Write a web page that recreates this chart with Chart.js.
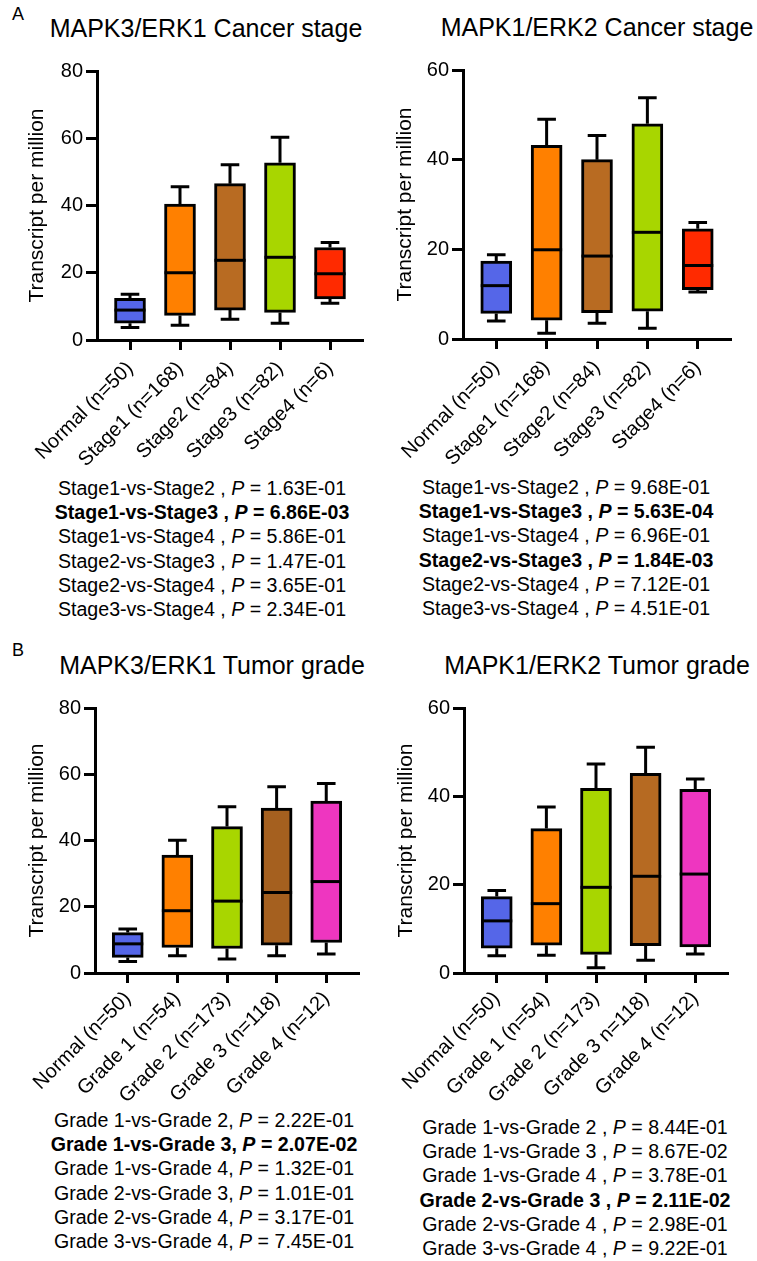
<!DOCTYPE html>
<html>
<head>
<meta charset="utf-8">
<script src="https://cdn.jsdelivr.net/npm/chart.js@4.4.1/dist/chart.umd.min.js"></script>
<style>
  body {
    margin: 0;
    background: #fff;
    width: 757px;
    height: 1261px;
    position: relative;
    overflow: hidden;
    font-family: 'Liberation Sans', Arial, Helvetica, sans-serif;
    color: #000;
  }
  .letter { position: absolute; font-size: 18px; line-height: 18px; }
  .title { position: absolute; width: 400px; text-align: center; font-size: 25px; line-height: 30px; white-space: nowrap; }
  .stats { position: absolute; width: 380px; text-align: center; font-size: 19.6px; line-height: 24.2px; white-space: nowrap; }
  canvas { position: absolute; }
</style>
</head>
<body>
<div class="letter" style="left:12px;top:5px">A</div>
<div class="letter" style="left:12px;top:641px">B</div>
<div class="title" style="left:6px;top:13px">MAPK3/ERK1 Cancer stage</div>
<div class="title" style="left:397px;top:12px">MAPK1/ERK2 Cancer stage</div>
<div class="title" style="left:12px;top:650px">MAPK3/ERK1 Tumor grade</div>
<div class="title" style="left:397px;top:650px">MAPK1/ERK2 Tumor grade</div>
<div class="stats" id="statsA" style="left:12px;top:476px"></div>
<div class="stats" id="statsB" style="left:376px;top:475px"></div>
<div class="stats" id="statsC" style="left:14px;top:1108px"></div>
<div class="stats" id="statsD" style="left:385px;top:1115px"></div>

<script>
const fontFamily = "'Liberation Sans', Arial, Helvetica, sans-serif";

// category labels
const stageLabels = ['Normal (n=50)', 'Stage1 (n=168)', 'Stage2 (n=84)', 'Stage3 (n=82)', 'Stage4 (n=6)'];
const gradeLabels = ['Normal (n=50)', 'Grade 1 (n=54)', 'Grade 2 (n=173)', 'Grade 3 (n=118)', 'Grade 4 (n=12)'];
const gradeLabelsErk2 = ['Normal (n=50)', 'Grade 1 (n=54)', 'Grade 2 (n=173)', 'Grade 3 n=118)', 'Grade 4 (n=12)'];

const stageColors = ['#5566e8', '#ff8000', '#b86b22', '#a8d600', '#ff2a00'];
const gradeColors = ['#5566e8', '#ff8000', '#a8d600', '#a5601f', '#ee36c0'];
const gradeColorsErk2 = ['#5566e8', '#ff8000', '#a8d600', '#b66a22', '#ee36c0'];

// MAPK3/ERK1 by cancer stage (min, Q1, median, Q3, max)
const erk1StageMin = [3.7, 4.4, 6.2, 5.0, 10.9];
const erk1StageQ1 = [5.0, 7.3, 8.9, 8.2, 12.2];
const erk1StageMed = [8.9, 20.0, 23.7, 24.6, 19.7];
const erk1StageQ3 = [12.4, 40.4, 46.5, 52.7, 27.5];
const erk1StageMax = [13.6, 45.6, 52.1, 60.3, 29.0];

// MAPK1/ERK2 by cancer stage
const erk2StageMin = [4.0, 1.3, 3.5, 2.4, 10.5];
const erk2StageQ1 = [5.7, 4.2, 5.9, 6.2, 11.0];
const erk2StageMed = [11.9, 19.9, 18.5, 23.8, 16.4];
const erk2StageQ3 = [17.4, 43.2, 40.0, 48.0, 24.6];
const erk2StageMax = [18.8, 49.0, 45.4, 53.8, 26.0];

// MAPK3/ERK1 by tumor grade
const erk1GradeMin = [3.5, 5.2, 4.2, 5.2, 5.7];
const erk1GradeQ1 = [4.7, 7.7, 7.4, 8.4, 9.2];
const erk1GradeMed = [8.8, 18.8, 21.7, 24.3, 27.6];
const erk1GradeQ3 = [12.2, 35.6, 44.2, 49.8, 51.9];
const erk1GradeMax = [13.3, 40.1, 50.2, 56.2, 57.2];

// MAPK1/ERK2 by tumor grade
const erk2GradeMin = [3.9, 4.0, 1.2, 2.9, 4.3];
const erk2GradeQ1 = [5.6, 6.3, 4.2, 6.2, 5.9];
const erk2GradeMed = [11.8, 15.7, 19.4, 21.9, 22.4];
const erk2GradeQ3 = [17.3, 32.7, 41.8, 45.2, 41.6];
const erk2GradeMax = [18.7, 37.6, 47.3, 51.1, 43.9];

// pairwise comparisons
const erk1StageTests = ['Stage1-vs-Stage2 ,', 'Stage1-vs-Stage3 ,', 'Stage1-vs-Stage4 ,', 'Stage2-vs-Stage3 ,', 'Stage2-vs-Stage4 ,', 'Stage3-vs-Stage4 ,'];
const erk1StageP = ['1.63E-01', '6.86E-03', '5.86E-01', '1.47E-01', '3.65E-01', '2.34E-01'];
const erk1StageBold = [false, true, false, false, false, false];

const erk2StageTests = erk1StageTests;
const erk2StageP = ['9.68E-01', '5.63E-04', '6.96E-01', '1.84E-03', '7.12E-01', '4.51E-01'];
const erk2StageBold = [false, true, false, true, false, false];

const erk1GradeTests = ['Grade 1-vs-Grade 2,', 'Grade 1-vs-Grade 3,', 'Grade 1-vs-Grade 4,', 'Grade 2-vs-Grade 3,', 'Grade 2-vs-Grade 4,', 'Grade 3-vs-Grade 4,'];
const erk1GradeP = ['2.22E-01', '2.07E-02', '1.32E-01', '1.01E-01', '3.17E-01', '7.45E-01'];
const erk1GradeBold = [false, true, false, false, false, false];

const erk2GradeTests = ['Grade 1-vs-Grade 2 ,', 'Grade 1-vs-Grade 3 ,', 'Grade 1-vs-Grade 4 ,', 'Grade 2-vs-Grade 3 ,', 'Grade 2-vs-Grade 4 ,', 'Grade 3-vs-Grade 4 ,'];
const erk2GradeP = ['8.44E-01', '8.67E-02', '3.78E-01', '2.11E-02', '2.98E-01', '9.22E-01'];
const erk2GradeBold = [false, false, false, true, false, false];

// whiskers go behind the boxes, medians on top
const boxWhiskers = {
  id: 'boxWhiskers',
  beforeDatasetsDraw(chart, args, opts) {
    const ctx = chart.ctx;
    const y = chart.scales.y;
    const data = chart.data.datasets[0].data;
    ctx.save();
    ctx.strokeStyle = '#000';
    ctx.lineWidth = 3;
    chart.getDatasetMeta(0).data.forEach((bar, i) => {
      const cap = bar.width * 0.3;
      const [q1, q3] = data[i].y;
      const top = y.getPixelForValue(opts.maxs[i]);
      const bottom = y.getPixelForValue(opts.mins[i]);
      ctx.beginPath();
      ctx.moveTo(bar.x, y.getPixelForValue(q3));
      ctx.lineTo(bar.x, top);
      ctx.moveTo(bar.x - cap, top);
      ctx.lineTo(bar.x + cap, top);
      ctx.moveTo(bar.x, y.getPixelForValue(q1));
      ctx.lineTo(bar.x, bottom);
      ctx.moveTo(bar.x - cap, bottom);
      ctx.lineTo(bar.x + cap, bottom);
      ctx.stroke();
    });
    ctx.restore();
  },
  afterDatasetsDraw(chart, args, opts) {
    const ctx = chart.ctx;
    const y = chart.scales.y;
    ctx.save();
    ctx.strokeStyle = '#000';
    ctx.lineWidth = 3;
    chart.getDatasetMeta(0).data.forEach((bar, i) => {
      const py = y.getPixelForValue(opts.medians[i]);
      ctx.beginPath();
      ctx.moveTo(bar.x - bar.width / 2, py);
      ctx.lineTo(bar.x + bar.width / 2, py);
      ctx.stroke();
    });
    ctx.restore();
  }
};

function boxChart(box, labels, colors, mins, q1s, medians, q3s, maxs, yMax) {
  const canvas = document.createElement('canvas');
  canvas.width = box.width;
  canvas.height = box.height;
  canvas.style.left = box.left + 'px';
  canvas.style.top = box.top + 'px';
  document.body.appendChild(canvas);

  const axisTicks = { drawOnChartArea: false, drawTicks: true, offset: false, tickWidth: 3, tickColor: '#000' };
  const axisBorder = { display: true, width: 3, color: '#000' };

  return new Chart(canvas, {
    type: 'bar',
    data: {
      datasets: [{
        data: labels.map((_, i) => ({ x: i, y: [q1s[i], q3s[i]] })),
        backgroundColor: colors,
        borderColor: '#000',
        borderWidth: 3,
        borderSkipped: false,
        barThickness: 31
      }]
    },
    options: {
      responsive: false,
      animation: false,
      devicePixelRatio: 1,
      layout: { padding: { left: box.padL, right: box.padR, top: box.padT, bottom: 0 } },
      plugins: {
        legend: { display: false },
        tooltip: { enabled: false },
        boxWhiskers: { mins, medians, maxs }
      },
      scales: {
        x: {
          type: 'linear',
          offset: false,
          min: -0.66,
          max: 4.66,
          grid: { ...axisTicks, tickLength: 10 },
          border: axisBorder,
          ticks: {
            autoSkip: false,
            minRotation: 45,
            maxRotation: 45,
            padding: box.labelPad,
            color: '#000',
            font: { size: 20, family: fontFamily },
            callback: v => labels[v]
          },
          afterBuildTicks: s => { s.ticks = labels.map((_, i) => ({ value: i })); },
          afterFit: s => { s.height = box.xHeight; }
        },
        y: {
          min: 0,
          max: yMax,
          grid: { ...axisTicks, tickLength: 11 },
          border: axisBorder,
          ticks: { stepSize: 20, padding: 3, color: '#000', font: { size: 20, family: fontFamily } },
          title: {
            display: true,
            text: 'Transcript per million',
            color: '#000',
            padding: { top: 4, bottom: 4 },
            font: { size: 21, family: fontFamily }
          },
          afterFit: s => { s.width = box.yWidth; }
        }
      }
    },
    plugins: [boxWhiskers]
  });
}

function writeStats(id, tests, pValues, bold) {
  const el = document.getElementById(id);
  el.innerHTML = tests.map((t, i) => {
    const line = `${t} <i>P</i> = ${pValues[i]}`;
    return `<div>${bold[i] ? '<b>' + line + '</b>' : line}</div>`;
  }).join('');
}

boxChart({ left: 0, top: 50, width: 378, height: 425, padL: 21, padR: 15, padT: 21, yWidth: 76, xHeight: 135, labelPad: 7 },
  stageLabels, stageColors, erk1StageMin, erk1StageQ1, erk1StageMed, erk1StageQ3, erk1StageMax, 80);
boxChart({ left: 378, top: 50, width: 379, height: 425, padL: 11, padR: 26, padT: 20, yWidth: 74, xHeight: 136, labelPad: 7 },
  stageLabels, stageColors, erk2StageMin, erk2StageQ1, erk2StageMed, erk2StageQ3, erk2StageMax, 60);
boxChart({ left: 0, top: 690, width: 378, height: 425, padL: 21, padR: 19, padT: 18, yWidth: 74, xHeight: 142, labelPad: 4 },
  gradeLabels, gradeColors, erk1GradeMin, erk1GradeQ1, erk1GradeMed, erk1GradeQ3, erk1GradeMax, 80);
boxChart({ left: 378, top: 690, width: 379, height: 425, padL: 12, padR: 29, padT: 18, yWidth: 74, xHeight: 142, labelPad: 4 },
  gradeLabelsErk2, gradeColorsErk2, erk2GradeMin, erk2GradeQ1, erk2GradeMed, erk2GradeQ3, erk2GradeMax, 60);

writeStats('statsA', erk1StageTests, erk1StageP, erk1StageBold);
writeStats('statsB', erk2StageTests, erk2StageP, erk2StageBold);
writeStats('statsC', erk1GradeTests, erk1GradeP, erk1GradeBold);
writeStats('statsD', erk2GradeTests, erk2GradeP, erk2GradeBold);
</script>
</body>
</html>
